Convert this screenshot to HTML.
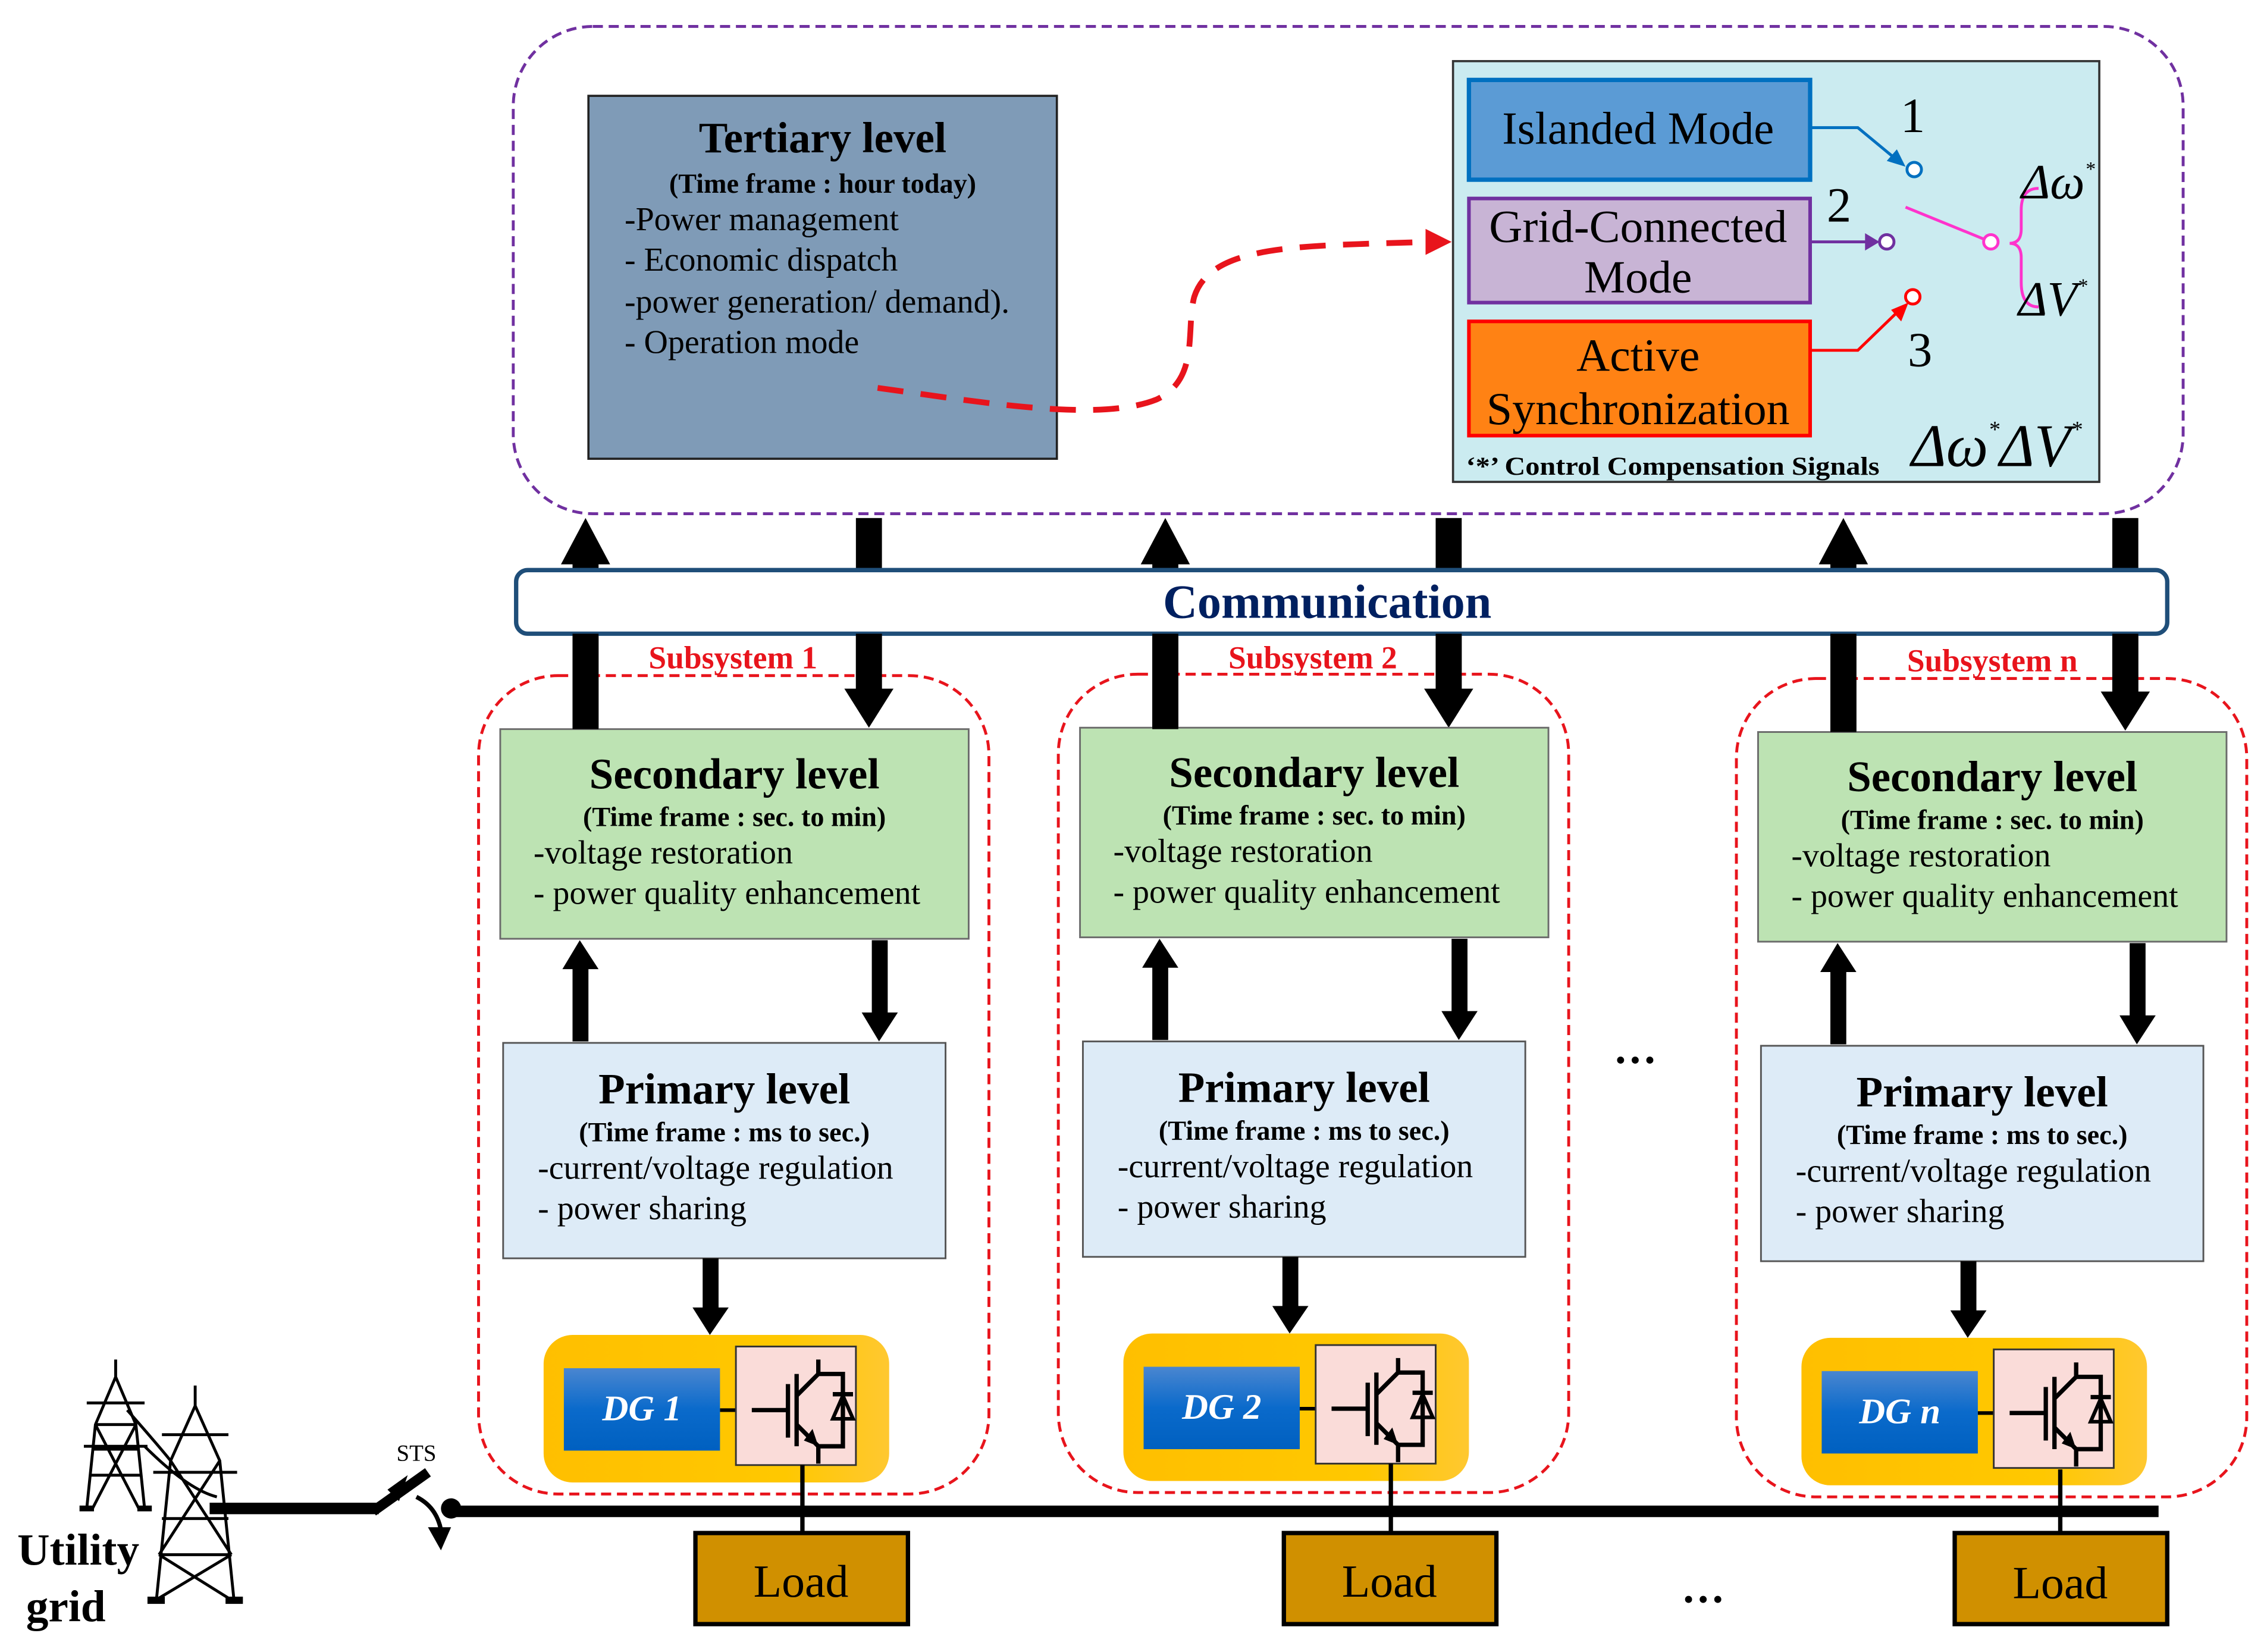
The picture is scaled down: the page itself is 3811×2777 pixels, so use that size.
<!DOCTYPE html>
<html><head><meta charset="utf-8"><style>html,body{margin:0;padding:0;background:#fff}svg{display:block}</style></head>
<body>
<svg width="3811" height="2777" viewBox="0 0 1568 1142" xmlns="http://www.w3.org/2000/svg" font-family="'Liberation Serif', serif">
<defs>
<linearGradient id="yel" x1="0" y1="0" x2="1" y2="0"><stop offset="0" stop-color="#FFBF00"/><stop offset="0.7" stop-color="#FFC800"/><stop offset="1" stop-color="#FFC830"/></linearGradient>
<linearGradient id="blu" x1="0" y1="0" x2="0" y2="1"><stop offset="0" stop-color="#4A86D0"/><stop offset="0.5" stop-color="#0A6ACB"/><stop offset="1" stop-color="#0060C0"/></linearGradient>
<g id="sub">
  <rect x="331" y="467" width="353" height="566" rx="55" fill="none" stroke="#E8141C" stroke-width="2" stroke-dasharray="7,4"/>
  <rect x="346" y="504" width="324" height="145" fill="#BDE3B3" stroke="#6b6b6b" stroke-width="1.2"/>
  <text x="508" y="545" font-size="30" font-weight="bold" text-anchor="middle">Secondary level</text>
  <text x="508" y="571" font-size="19" font-weight="bold" text-anchor="middle">(Time frame : sec. to min)</text>
  <text x="369" y="597" font-size="23">-voltage restoration</text>
  <text x="369" y="625" font-size="23">- power quality enhancement</text>
  <rect x="348" y="721" width="306" height="149" fill="#DDEBF7" stroke="#555" stroke-width="1.2"/>
  <text x="501" y="763" font-size="30" font-weight="bold" text-anchor="middle">Primary level</text>
  <text x="501" y="789" font-size="19" font-weight="bold" text-anchor="middle">(Time frame : ms to sec.)</text>
  <text x="372" y="815" font-size="23">-current/voltage regulation</text>
  <text x="372" y="843" font-size="23">- power sharing</text>
  <rect x="396" y="668" width="11" height="52"/><polygon points="389,670 414,670 401,650"/>
  <rect x="603" y="650" width="11" height="52"/><polygon points="596,700 621,700 608,720"/>
  <rect x="486" y="870" width="11" height="36"/><polygon points="479,904 504,904 491,923"/>
  <rect x="376" y="923" width="239" height="102" rx="20" fill="url(#yel)"/>
  <line x1="498" y1="975" x2="509" y2="975" stroke="#000" stroke-width="2.5"/>
  <rect x="509" y="931" width="83" height="82" fill="#FADCD9" stroke="#333" stroke-width="1.2"/>
  <g stroke="#000" stroke-width="3" fill="none">
    <line x1="520" y1="975" x2="545" y2="975"/>
    <line x1="545" y1="957" x2="545" y2="994"/>
    <line x1="551" y1="950" x2="551" y2="1000"/>
    <polyline points="551,965 566,950 566,940"/>
    <polyline points="566,950 583,950 583,1000 566,1000"/>
    <polyline points="551,985 566,1000 566,1012"/>
    <line x1="576" y1="964" x2="590" y2="964"/>
  </g>
  <polygon points="583,965 576,981 590,981" fill="none" stroke="#000" stroke-width="2.5"/>
  <polygon points="566,1000 556,996 562,988" fill="#000"/>
</g>
</defs>

<rect x="355" y="18" width="1155" height="337" rx="55" fill="none" stroke="#7030A0" stroke-width="2" stroke-dasharray="7,4"/>

<rect x="407" y="66" width="324" height="251" fill="#7F9BB7" stroke="#222" stroke-width="1.5"/>
<text x="569" y="105" font-size="30" font-weight="bold" text-anchor="middle">Tertiary level</text>
<text x="569" y="133" font-size="19" font-weight="bold" text-anchor="middle">(Time frame : hour  today)</text>
<text x="432" y="159" font-size="23">-Power management</text>
<text x="432" y="187" font-size="23">- Economic dispatch</text>
<text x="432" y="216" font-size="23">-power generation/ demand).</text>
<text x="432" y="244" font-size="23">- Operation mode</text>
<path d="M607,268 C680,278 760,292 800,276 C830,262 820,228 826,205 C838,168 900,170 988,167" fill="none" stroke="#E8141C" stroke-width="4" stroke-dasharray="18,12"/>
<polygon points="986,158 1004,167 986,176" fill="#E8141C"/>

<rect x="1005" y="42" width="447" height="291" fill="#CBEBF0" stroke="#333" stroke-width="1.5"/>
<rect x="1016" y="55" width="236" height="69" fill="#5B9BD5" stroke="#0070C0" stroke-width="3"/>
<text x="1133" y="99" font-size="32" text-anchor="middle" textLength="188" lengthAdjust="spacingAndGlyphs">Islanded Mode</text>
<rect x="1016" y="137" width="236" height="72" fill="#C8B4D5" stroke="#7030A0" stroke-width="2.5"/>
<text x="1133" y="167" font-size="32" text-anchor="middle">Grid-Connected</text>
<text x="1133" y="202" font-size="32" text-anchor="middle">Mode</text>
<rect x="1016" y="222" width="236" height="79" fill="#FF8214" stroke="#FF0000" stroke-width="2.5"/>
<text x="1133" y="256" font-size="32" text-anchor="middle">Active</text>
<text x="1133" y="293" font-size="32" text-anchor="middle">Synchronization</text>
<polyline points="1252,88 1285,88 1314,112" fill="none" stroke="#0070C0" stroke-width="2"/>
<polygon points="1318,115 1305,111 1312,103" fill="#0070C0"/>
<circle cx="1324" cy="117" r="5" fill="#fff" stroke="#0070C0" stroke-width="2"/>
<text x="1323" y="91" font-size="34" text-anchor="middle">1</text>
<line x1="1252" y1="167" x2="1292" y2="167" stroke="#7030A0" stroke-width="2"/>
<polygon points="1290,161 1300,167 1290,173" fill="#7030A0"/>
<circle cx="1305" cy="167" r="5" fill="#fff" stroke="#7030A0" stroke-width="2"/>
<text x="1272" y="153" font-size="34" text-anchor="middle">2</text>
<line x1="1318" y1="143" x2="1372" y2="165" stroke="#FF33CC" stroke-width="2"/>
<circle cx="1377" cy="167" r="5" fill="#fff" stroke="#FF33CC" stroke-width="2"/>
<polyline points="1252,242 1285,242 1315,213" fill="none" stroke="#FF0000" stroke-width="2"/>
<polygon points="1320,209 1315,222 1308,214" fill="#FF0000"/>
<circle cx="1323" cy="205" r="5" fill="#fff" stroke="#FF0000" stroke-width="2"/>
<text x="1328" y="253" font-size="34" text-anchor="middle">3</text>
<path d="M1410,130 Q1398,130 1398,145 L1398,158 Q1398,168 1390,168 Q1398,168 1398,178 L1398,195 Q1398,212 1410,212" fill="none" stroke="#FF33CC" stroke-width="2"/>
<text x="1398" y="137" font-size="34" font-style="italic">Δω<tspan font-size="14" dy="-16">*</tspan></text>
<text x="1396" y="218" font-size="34" font-style="italic">ΔV<tspan font-size="14" dy="-16">*</tspan></text>
<text x="1014" y="328" font-size="18" font-weight="bold" textLength="286" lengthAdjust="spacingAndGlyphs">‘*’ Control Compensation Signals</text>
<text x="1322" y="322" font-size="42" font-style="italic" textLength="118" lengthAdjust="spacingAndGlyphs">Δω<tspan font-size="16" dy="-20">*</tspan><tspan dy="20">ΔV</tspan><tspan font-size="16" dy="-20">*</tspan></text>

<g fill="#000">
  <rect x="396" y="385" width="18" height="119"/><polygon points="388,390 422,390 405,358"/>
  <rect x="592" y="358" width="18" height="120"/><polygon points="584,476 618,476 601,503"/>
  <rect x="797" y="385" width="18" height="119"/><polygon points="789,390 823,390 806,358"/>
  <rect x="993" y="358" width="18" height="120"/><polygon points="985,476 1019,476 1002,503"/>
  <rect x="1266" y="385" width="18" height="121"/><polygon points="1258,390 1292,390 1275,358"/>
  <rect x="1461" y="358" width="18" height="122"/><polygon points="1453,478 1487,478 1470,505"/>
</g>

<rect x="357" y="394" width="1142" height="44" rx="8" fill="#fff" stroke="#1F4E79" stroke-width="3"/>
<text x="918" y="427" font-size="33" font-weight="bold" fill="#002060" text-anchor="middle">Communication</text>

<line x1="145" y1="1043" x2="262" y2="1043" stroke="#000" stroke-width="8"/>
<line x1="258" y1="1045" x2="296" y2="1018" stroke="#000" stroke-width="7"/>
<polygon points="268,1030 282,1020 276,1038" fill="#000"/>
<path d="M288,1035 Q302,1042 305,1058" fill="none" stroke="#000" stroke-width="3"/>
<polygon points="296,1056 312,1056 305,1072" fill="#000"/>
<circle cx="312" cy="1043" r="7" fill="#000"/>
<line x1="312" y1="1045" x2="1493" y2="1045" stroke="#000" stroke-width="8"/>
<text x="288" y="1010" font-size="16" text-anchor="middle">STS</text>

<use href="#sub"/>
<use href="#sub" transform="translate(401,-1)"/>
<use href="#sub" transform="translate(870,2)"/>

<rect x="390" y="946" width="108" height="57" fill="url(#blu)"/>
<text x="444" y="982" font-size="25" font-weight="bold" font-style="italic" fill="#fff" text-anchor="middle">DG 1</text>
<rect x="791" y="945" width="108" height="57" fill="url(#blu)"/>
<text x="845" y="981" font-size="25" font-weight="bold" font-style="italic" fill="#fff" text-anchor="middle">DG 2</text>
<rect x="1260" y="948" width="108" height="57" fill="url(#blu)"/>
<text x="1314" y="984" font-size="25" font-weight="bold" font-style="italic" fill="#fff" text-anchor="middle">DG n</text>

<!-- loads -->
<g stroke="#000" stroke-width="3">
  <line x1="555" y1="1013" x2="555" y2="1060"/>
  <line x1="962" y1="1012" x2="962" y2="1060"/>
  <line x1="1425" y1="1016" x2="1425" y2="1060"/>
</g>
<g fill="#D09000" stroke="#000" stroke-width="3">
  <rect x="481" y="1060" width="147" height="63"/>
  <rect x="888" y="1060" width="147" height="63"/>
  <rect x="1352" y="1060" width="147" height="63"/>
</g>
<g font-size="32" text-anchor="middle">
  <text x="554" y="1104">Load</text>
  <text x="961" y="1104">Load</text>
  <text x="1425" y="1105">Load</text>
</g>

<g font-size="22" font-weight="bold" fill="#E8141C" text-anchor="middle">
  <rect x="436" y="441" width="143" height="24" fill="#fff"/>
  <text x="507" y="462">Subsystem 1</text>
  <rect x="837" y="441" width="143" height="24" fill="#fff"/>
  <text x="908" y="462">Subsystem 2</text>
  <rect x="1306" y="443" width="145" height="24" fill="#fff"/>
  <text x="1378" y="464">Subsystem n</text>
</g>
<g fill="#000">
  <rect x="396" y="438" width="18" height="66"/>
  <rect x="592" y="438" width="18" height="40"/>
  <rect x="797" y="438" width="18" height="66"/>
  <rect x="993" y="438" width="18" height="40"/>
  <rect x="1266" y="438" width="18" height="68"/>
  <rect x="1461" y="438" width="18" height="42"/>
</g>

<text x="1131" y="735" font-size="30" font-weight="bold" text-anchor="middle">…</text>
<text x="1178" y="1108" font-size="30" font-weight="bold" text-anchor="middle">…</text>

<g stroke="#000" stroke-width="2" fill="none">
  <path d="M80,940 L80,952 M80,952 L66,985 L60,1043 M80,952 L94,985 L100,1043 M66,985 L94,985 M64,1002 L96,1002 M60,970 L100,970 M58,1000 L102,1000 M66,985 L96,1043 M94,985 L64,1043 M62,1020 L98,1020"/>
  <path d="M135,958 L135,972 M135,972 L118,1010 L108,1108 M135,972 L152,1010 L162,1108 M112,992 L158,992 M106,1018 L164,1018 M118,1010 L160,1075 M152,1010 L110,1075 M112,1050 L158,1050 M110,1075 L160,1075 M110,1075 L158,1105 M160,1075 L110,1105"/>
  <path d="M88,975 Q110,1000 118,1010 M100,1000 Q130,1030 150,1035"/>
</g>
<rect x="102" y="1104" width="12" height="5" fill="#000"/><rect x="156" y="1104" width="12" height="5" fill="#000"/>
<rect x="55" y="1041" width="10" height="4" fill="#000"/><rect x="95" y="1041" width="10" height="4" fill="#000"/>
<text x="12" y="1082" font-size="31" font-weight="bold">Utility</text>
<text x="18" y="1121" font-size="31" font-weight="bold">grid</text>
</svg>
</body></html>
